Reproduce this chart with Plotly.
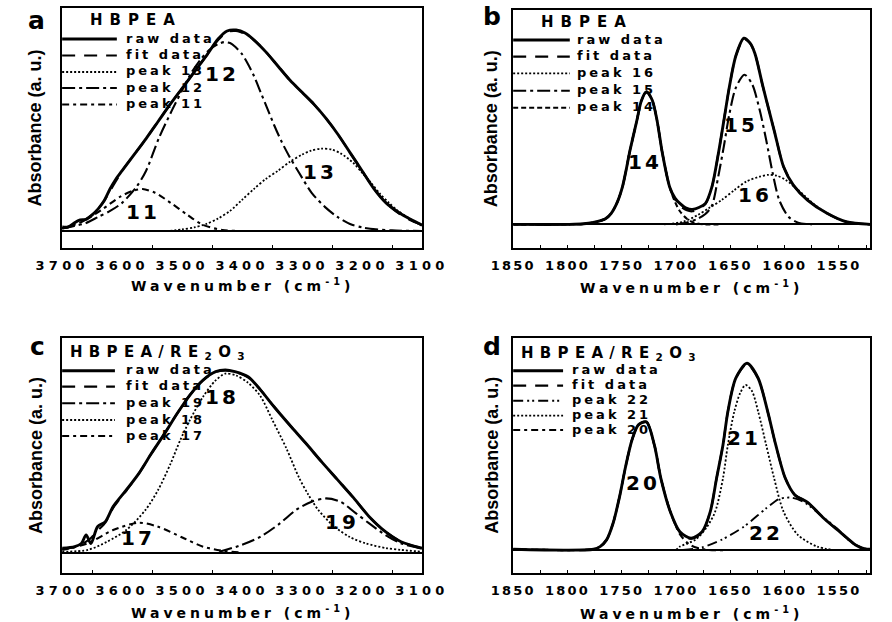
import json
import plotly.graph_objects as go

W, H = 892, 622
FONT = "Liberation Sans, Arial, sans-serif"
WIDE = "DejaVu Sans, Verdana, sans-serif"

# ---------------- Panel a : HBPEA, 3700-3100 cm-1 ----------------
a_wn = [3700, 3690, 3680, 3670, 3660, 3650, 3640, 3630, 3620, 3610, 3600, 3580, 3560, 3540, 3520,
        3500, 3480, 3460, 3440, 3425, 3410, 3395, 3380, 3360, 3340, 3320, 3300, 3280, 3260, 3240,
        3220, 3200, 3180, 3160, 3140, 3120, 3100]
a_raw = [0.02, 0.02, 0.04, 0.055, 0.058, 0.08, 0.11, 0.15, 0.21, 0.26, 0.30, 0.38, 0.46, 0.545, 0.63,
         0.71, 0.79, 0.87, 0.955, 0.995, 1.0, 0.985, 0.95, 0.89, 0.82, 0.75, 0.69, 0.63, 0.56, 0.48,
         0.39, 0.30, 0.21, 0.14, 0.095, 0.06, 0.03]
a_fit = [0.015, 0.02, 0.03, 0.045, 0.06, 0.08, 0.11, 0.15, 0.20, 0.25, 0.30, 0.38, 0.46, 0.545, 0.63,
         0.71, 0.79, 0.87, 0.95, 0.99, 0.995, 0.98, 0.95, 0.89, 0.82, 0.75, 0.69, 0.63, 0.56, 0.48,
         0.39, 0.30, 0.21, 0.14, 0.09, 0.055, 0.03]
a_p13_wn = [3520, 3500, 3480, 3460, 3440, 3420, 3400, 3380, 3360, 3340, 3320, 3300, 3285, 3268,
            3250, 3235, 3215, 3200, 3185, 3170, 3155, 3140, 3120, 3100]
a_p13 = [0.0, 0.008, 0.018, 0.035, 0.062, 0.1, 0.155, 0.21, 0.26, 0.3, 0.345, 0.38, 0.4, 0.41,
         0.405, 0.385, 0.34, 0.29, 0.24, 0.185, 0.14, 0.1, 0.06, 0.025]
a_p12_wn = [3700, 3680, 3660, 3640, 3620, 3600, 3576, 3560, 3539, 3517, 3500, 3486, 3470, 3455,
            3440, 3430, 3420, 3411, 3400, 3390, 3380, 3369, 3358, 3347, 3335, 3321, 3305, 3284,
            3262, 3241, 3220, 3200, 3177, 3150, 3100]
a_p12 = [0.013, 0.025, 0.04, 0.07, 0.1, 0.14, 0.22, 0.3, 0.46, 0.6, 0.7, 0.78, 0.85, 0.9,
         0.93, 0.94, 0.935, 0.915, 0.88, 0.83, 0.77, 0.69, 0.61, 0.53, 0.45, 0.37, 0.29, 0.19,
         0.12, 0.07, 0.035, 0.018, 0.008, 0.003, 0.0]
a_p11_wn = [3700, 3667, 3635, 3603, 3582, 3566, 3545, 3518, 3491, 3465, 3433, 3400]
a_p11 = [0.013, 0.046, 0.104, 0.171, 0.2, 0.209, 0.19, 0.138, 0.08, 0.03, 0.005, 0.0]
a_lab_text = ["11", "12", "13"]
a_lab_wn = [3566, 3433, 3270]
a_lab_abs = [0.096, 0.78, 0.295]

# ---------------- Panel b : HBPEA, 1850-1520 cm-1 ----------------
b_wn = [1850, 1800, 1785, 1773, 1765, 1759.7, 1754, 1749.4, 1746, 1743, 1739.5, 1736, 1732, 1727.3,
        1722, 1717.6, 1712.6, 1705.9, 1701, 1696.5, 1690, 1685, 1679, 1672.9, 1667, 1661, 1655.9,
        1650.9, 1645, 1637.6, 1632, 1627.4, 1620, 1614, 1609, 1601, 1592, 1579, 1561, 1543.5, 1521]
b_raw = [0, 0, 0.003, 0.014, 0.03, 0.059, 0.12, 0.2, 0.29, 0.38, 0.47, 0.558, 0.66, 0.709,
         0.665, 0.558, 0.38, 0.2, 0.14, 0.112, 0.085, 0.08, 0.09, 0.112, 0.2, 0.38, 0.558,
         0.736, 0.9, 0.995, 0.97, 0.914, 0.736, 0.6, 0.487, 0.308, 0.21, 0.13, 0.059, 0.014, 0]
b_fit = [0, 0, 0.003, 0.014, 0.03, 0.059, 0.12, 0.2, 0.29, 0.38, 0.47, 0.558, 0.66, 0.709,
         0.665, 0.558, 0.38, 0.2, 0.135, 0.1, 0.075, 0.07, 0.085, 0.11, 0.2, 0.38, 0.558,
         0.736, 0.9, 0.99, 0.97, 0.914, 0.736, 0.6, 0.487, 0.308, 0.21, 0.13, 0.059, 0.014, 0]
b_p16_wn = [1711, 1693.5, 1680, 1670, 1658, 1646.4, 1635, 1623, 1615, 1607, 1599, 1587.6, 1570,
            1552, 1535, 1521]
b_p16 = [0, 0.014, 0.05, 0.086, 0.13, 0.183, 0.23, 0.255, 0.265, 0.26, 0.237, 0.184, 0.094,
         0.032, 0.005, 0]
b_p15_wn = [1700, 1690, 1680, 1673, 1667, 1661, 1655.9, 1650.9, 1645, 1637, 1630, 1623, 1617,
            1611, 1605, 1596.5, 1587.6, 1575]
b_p15 = [0, 0.01, 0.03, 0.055, 0.1, 0.26, 0.42, 0.59, 0.73, 0.80, 0.75, 0.611, 0.451,
         0.273, 0.13, 0.041, 0.009, 0]
b_p14_wn = [1850, 1800, 1785, 1773, 1765, 1759.7, 1754, 1749.4, 1746, 1743, 1739.5, 1736, 1732,
            1727.3, 1722, 1717.6, 1712.6, 1705.9, 1701, 1696.5, 1690, 1684, 1675, 1660]
b_p14 = [0, 0, 0.003, 0.014, 0.03, 0.059, 0.12, 0.2, 0.29, 0.38, 0.47, 0.558, 0.66,
         0.709, 0.665, 0.558, 0.38, 0.2, 0.12, 0.07, 0.03, 0.01, 0.0, 0.0]
b_lab_text = ["14", "15", "16"]
b_lab_wn = [1728.8, 1640.6, 1627.4]
b_lab_abs = [0.335, 0.531, 0.157]

# ---------------- Panel c : HBPEA/RE2O3, 3700-3100 cm-1 ----------------
c_wn = [3700, 3679, 3668, 3660, 3652, 3641, 3628, 3615, 3593, 3572, 3551, 3529, 3508, 3487, 3465,
        3444, 3428, 3412, 3390, 3369, 3347, 3321, 3294, 3268, 3241, 3214, 3188, 3161, 3135, 3100]
c_raw = [0.024, 0.033, 0.05, 0.097, 0.05, 0.142, 0.17, 0.252, 0.343, 0.434, 0.544, 0.653, 0.763,
         0.863, 0.945, 0.991, 1.0, 0.991, 0.963, 0.89, 0.80, 0.70, 0.60, 0.50, 0.40, 0.30, 0.197,
         0.115, 0.06, 0.024]
c_fit = [0.02, 0.03, 0.045, 0.06, 0.08, 0.12, 0.165, 0.245, 0.34, 0.434, 0.544, 0.653, 0.763,
         0.863, 0.945, 0.99, 0.998, 0.99, 0.96, 0.89, 0.80, 0.70, 0.60, 0.50, 0.40, 0.30, 0.197,
         0.115, 0.06, 0.024]
c_p19_wn = [3438, 3401, 3369, 3337, 3310, 3284, 3260, 3236, 3210, 3188, 3161, 3135, 3100]
c_p19 = [0.005, 0.042, 0.088, 0.16, 0.234, 0.279, 0.297, 0.279, 0.215, 0.16, 0.097, 0.051, 0.024]
c_p18_wn = [3700, 3657, 3625, 3593, 3561, 3540, 3519, 3503, 3487, 3465, 3445, 3428, 3410, 3390,
            3370, 3350, 3326, 3305, 3290, 3273, 3246, 3220, 3193, 3160, 3135, 3100]
c_p18 = [0.005, 0.015, 0.06, 0.124, 0.234, 0.343, 0.489, 0.617, 0.726, 0.854, 0.94, 0.98, 0.97,
         0.93, 0.86, 0.73, 0.57, 0.41, 0.32, 0.234, 0.142, 0.085, 0.05, 0.025, 0.015, 0.005]
c_p17_wn = [3700, 3657, 3615, 3572, 3540, 3497, 3465, 3433, 3400]
c_p17 = [0.015, 0.051, 0.124, 0.164, 0.142, 0.079, 0.033, 0.011, 0.0]
c_lab_text = ["17", "18", "19"]
c_lab_wn = [3574, 3433, 3233]
c_lab_abs = [0.078, 0.854, 0.17]

# ---------------- Panel d : HBPEA/RE2O3, 1850-1520 cm-1 ----------------
d_wn = [1850, 1776, 1770, 1764, 1758, 1752, 1746.5, 1740.6, 1734.7, 1727.3, 1720, 1714, 1705.3,
        1696.5, 1686.2, 1676, 1668.5, 1662.7, 1656.8, 1652.3, 1645, 1634.7, 1624.4, 1615.6, 1608.2,
        1599.4, 1590.6, 1578.8, 1564, 1549.4, 1534.7, 1526, 1521]
d_raw = [0.004, 0.004, 0.018, 0.054, 0.143, 0.286, 0.446, 0.589, 0.67, 0.686, 0.5625, 0.384, 0.205,
         0.098, 0.063, 0.098, 0.205, 0.384, 0.5625, 0.741, 0.92, 1.0, 0.92, 0.741, 0.5625,
         0.384, 0.295, 0.255, 0.17, 0.098, 0.027, 0.005, 0.004]
d_fit = [0.004, 0.004, 0.018, 0.054, 0.143, 0.286, 0.446, 0.589, 0.67, 0.686, 0.5625, 0.384, 0.205,
         0.095, 0.06, 0.095, 0.205, 0.384, 0.5625, 0.741, 0.92, 0.995, 0.92, 0.741, 0.5625,
         0.384, 0.295, 0.255, 0.17, 0.098, 0.027, 0.005, 0.004]
d_p22_wn = [1693.6, 1676, 1658.3, 1637.6, 1617, 1605.3, 1593.5, 1581.8, 1567, 1552, 1537.6, 1526, 1521]
d_p22 = [0, 0.014, 0.054, 0.125, 0.223, 0.273, 0.28, 0.255, 0.1875, 0.116, 0.036, 0.009, 0.004]
d_p21_wn = [1700, 1696.5, 1681.7, 1672, 1664, 1656.8, 1652.3, 1646.4, 1641, 1636, 1630, 1624.4,
            1617, 1609.7, 1601, 1587.7, 1570, 1555]
d_p21 = [0, 0.018, 0.057, 0.12, 0.205, 0.384, 0.5625, 0.741, 0.84, 0.884, 0.85, 0.741,
         0.5625, 0.384, 0.205, 0.08, 0.018, 0]
d_p20_wn = [1850, 1776, 1770, 1764, 1758, 1752, 1746.5, 1740.6, 1734.7, 1727.3, 1720, 1714, 1705.3,
            1696.5, 1688, 1680, 1670, 1650]
d_p20 = [0.004, 0.004, 0.018, 0.054, 0.143, 0.286, 0.446, 0.589, 0.67, 0.686, 0.5625, 0.384, 0.205,
         0.085, 0.03, 0.01, 0.0, 0.0]
d_lab_text = ["20", "21", "22"]
d_lab_wn = [1730, 1637.6, 1617]
d_lab_abs = [0.357, 0.598, 0.09]

title_hb = "HBPEA"
title_re = "HBPEA/RE<sub>2</sub>O<sub>3</sub>"
x_title = "Wavenumber (cm<sup>-1</sup>)"
y_title = "Absorbance (a. u.)"

# ---------------- styles ----------------
STY = {
    "raw": dict(width=2.9, dash="solid"),
    "fit": dict(width=2.2, dash="13px,9px"),
    "dot": dict(width=1.8, dash="2px,2px"),
    "ldd": dict(width=2.1, dash="13px,4px,3px,4px"),
    "dd": dict(width=2.1, dash="7px,4px,3px,4px"),
    "sd": dict(width=2.1, dash="5px,3px"),
    "ddd": dict(width=1.9, dash="10px,4px,2px,3px,2px,4px"),
}

panels = [
    dict(letter="a", xdom=(46, 421), ydom=(8.3, 248.3), xr=[3700, 3100], yr=[-0.086, 1.108],
         dtick=100, title=title_hb, title_pos=(73, 20), letter_pos=(19, 21),
         series=[("raw data", a_wn, a_raw, "raw"), ("fit data", a_wn, a_fit, "fit"),
                 ("peak 13", a_p13_wn, a_p13, "dot"), ("peak 12", a_p12_wn, a_p12, "ldd"),
                 ("peak 11", a_p11_wn, a_p11, "dd")],
         leg_x=(46, 103, 110), leg_rows=[39, 55.5, 72, 88, 104.5],
         labels=(a_lab_text, a_lab_wn, a_lab_abs), xt_y=285, yt_x=18, tspace=4.3),
    dict(letter="b", xdom=(516, 888.3), ydom=(10, 248.3), xr=[1850, 1521], yr=[-0.128, 1.146],
         dtick=50, title=title_hb, title_pos=(543, 22), letter_pos=(494, 17),
         series=[("raw data", b_wn, b_raw, "raw"), ("fit data", b_wn, b_fit, "fit"),
                 ("peak 16", b_p16_wn, b_p16, "dot"), ("peak 15", b_p15_wn, b_p15, "ldd"),
                 ("peak 14", b_p14_wn, b_p14, "sd")],
         leg_x=(516, 575, 580), leg_rows=[40, 56.7, 73.3, 90.7, 107.7],
         labels=(b_lab_text, b_lab_wn, b_lab_abs), xt_y=287, yt_x=493, tspace=2.2),
    dict(letter="c", xdom=(46, 421), ydom=(338.3, 573.3), xr=[3700, 3100], yr=[-0.113, 1.1735],
         dtick=100, title=title_re, title_pos=(52, 352), letter_pos=(20, 346),
         series=[("raw data", c_wn, c_raw, "raw"), ("fit data", c_wn, c_fit, "fit"),
                 ("peak 19", c_p19_wn, c_p19, "ldd"), ("peak 18", c_p18_wn, c_p18, "dot"),
                 ("peak 17", c_p17_wn, c_p17, "dd")],
         leg_x=(46, 101, 110), leg_rows=[370.7, 386.7, 403.3, 420, 436],
         labels=(c_lab_text, c_lab_wn, c_lab_abs), xt_y=612, yt_x=19, tspace=4.3),
    dict(letter="d", xdom=(516, 888.3), ydom=(338.3, 573.3), xr=[1850, 1521], yr=[-0.125, 1.134],
         dtick=50, title=title_re, title_pos=(522, 353), letter_pos=(494, 346),
         series=[("raw data", d_wn, d_raw, "raw"), ("fit data", d_wn, d_fit, "fit"),
                 ("peak 22", d_p22_wn, d_p22, "ddd"), ("peak 21", d_p21_wn, d_p21, "dot"),
                 ("peak 20", d_p20_wn, d_p20, "dd")],
         leg_x=(516, 568, 575), leg_rows=[370.7, 385.7, 400.7, 415.7, 430],
         labels=(d_lab_text, d_lab_wn, d_lab_abs), xt_y=613, yt_x=494, tspace=2.2),
]


def px(x):
    return x / W


def py(y):
    return 1 - y / H


fig = go.Figure()
shapes, annotations = [], []
spacing = {}
tick_spacing = {}

for i, p in enumerate(panels):
    n = "" if i == 0 else str(i + 1)
    xa, ya = "x" + n, "y" + n
    for name, xs, ys, st in p["series"]:
        fig.add_trace(go.Scatter(x=xs, y=ys, mode="lines", xaxis=xa, yaxis=ya, name=name,
                                 line=dict(color="black", shape="spline", smoothing=0.8, **STY[st]),
                                 showlegend=False, hoverinfo="skip"))
    axis_common = dict(showgrid=False, showline=True, mirror=True, linecolor="black", linewidth=1.6)
    fig.layout["xaxis" + n] = dict(
        domain=[px(p["xdom"][0]), px(p["xdom"][1])], range=p["xr"], anchor=ya,
        dtick=p["dtick"], tick0=0, ticks="inside" if p["dtick"] == 50 else "", ticklen=4,
        tickcolor="black", zeroline=False,
        minor=dict(ticks="inside", ticklen=4, dtick=p["dtick"] / 2, tickcolor="black"),
        tickfont=dict(family=WIDE, size=13, color="black", weight="bold"),
        ticklabelstandoff=4, **axis_common)
    fig.layout["yaxis" + n] = dict(
        domain=[py(p["ydom"][1]), py(p["ydom"][0])], range=p["yr"], anchor=xa,
        showticklabels=False, ticks="", zeroline=True, zerolinecolor="black", zerolinewidth=1.6,
        **axis_common)
    tick_spacing["x" + n] = p["tspace"]

    # legend drawn inside the frame
    x0, x1, tx = p["leg_x"]
    for (name, xs, ys, st), ry in zip(p["series"], p["leg_rows"]):
        shapes.append(dict(type="line", xref="paper", yref="paper", x0=px(x0), x1=px(x1),
                           y0=py(ry), y1=py(ry),
                           line=dict(color="black", width=STY[st]["width"], dash=STY[st]["dash"])))
        annotations.append(dict(text=name, x=px(tx), y=py(ry - 1), xref="paper", yref="paper",
                                xanchor="left", yanchor="middle", align="left", showarrow=False,
                                font=dict(family=WIDE, size=13, color="black", weight="bold")))
        spacing[name] = 3.0
    tx0, ty0 = p["title_pos"]
    annotations.append(dict(text=p["title"], x=px(tx0), y=py(ty0), xref="paper", yref="paper",
                            xanchor="left", yanchor="middle", align="left", showarrow=False,
                            font=dict(family=WIDE, size=15, color="black", weight="bold")))
    # panel letter
    lx, ly = p["letter_pos"]
    annotations.append(dict(text=p["letter"], x=px(lx), y=py(ly), xref="paper", yref="paper",
                            xanchor="center", yanchor="middle", showarrow=False,
                            font=dict(family=WIDE, size=25, color="black", weight="bold")))
    # peak number labels
    for t, xv, yv in zip(*p["labels"]):
        annotations.append(dict(text=t, x=xv, y=yv, xref=xa, yref=ya, showarrow=False,
                                xanchor="center", yanchor="middle",
                                font=dict(family=WIDE, size=20, color="black", weight="bold")))
        spacing[t] = 3.0
    # axis titles
    xc = (p["xdom"][0] + p["xdom"][1]) / 2
    annotations.append(dict(text=x_title, x=px(xc), y=py(p["xt_y"]), xref="paper", yref="paper",
                            xanchor="center", yanchor="middle", showarrow=False,
                            font=dict(family=WIDE, size=14, color="black", weight="bold")))
    yc = (p["ydom"][0] + p["ydom"][1]) / 2
    annotations.append(dict(text=y_title, x=px(p["yt_x"]), y=py(yc), xref="paper", yref="paper",
                            xanchor="center", yanchor="middle", textangle=-90, showarrow=False,
                            font=dict(family=FONT, size=18, color="black", weight="bold")))

spacing["HBPEA"] = 7
spacing["HBPEA/RE2O3"] = 6.3
spacing["Wavenumber (cm-1)"] = 4.0

fig.update_layout(width=W, height=H, margin=dict(l=0, r=0, t=0, b=0),
                  paper_bgcolor="white", plot_bgcolor="white", showlegend=False,
                  shapes=shapes, annotations=annotations)

post = """
var gd = document.getElementById('{plot_id}');
var sp = %s;
var ts = %s;
function applySpacing(){
  Object.keys(ts).forEach(function(k){
    gd.querySelectorAll('g.' + k + 'tick text').forEach(function(t){
      t.style.letterSpacing = ts[k] + 'px';
    });
  });
  gd.querySelectorAll('text.annotation-text').forEach(function(t){
    var key = t.textContent.replace(/\\u200b/g, '');
    if (sp.hasOwnProperty(key)) { t.style.letterSpacing = sp[key] + 'px'; }
  });
}
applySpacing();
gd.on('plotly_afterplot', applySpacing);
""" % (json.dumps(spacing), json.dumps(tick_spacing))

fig.write_html("out.html", post_script=post, config={"displayModeBar": False})
